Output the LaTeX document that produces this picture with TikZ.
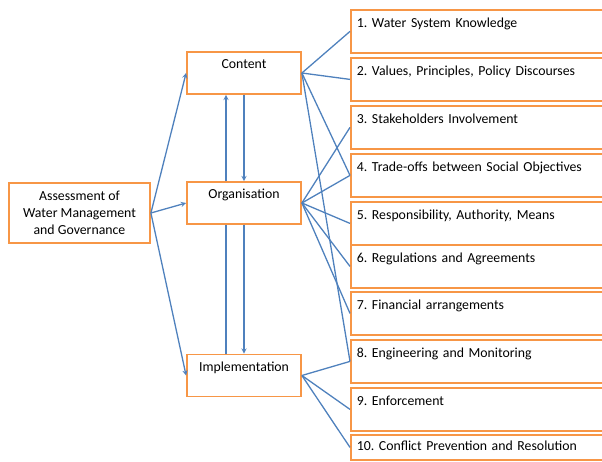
\documentclass[tikz,border=0pt]{standalone}
\usepackage{fontspec}
\setmainfont{Carlito}
\frenchspacing
\usetikzlibrary{arrows}
\definecolor{boxorange}{HTML}{F79646}
\definecolor{linkblue}{HTML}{4F81BD}

\begin{document}
\begin{tikzpicture}[x=1pt,y=-1pt,
    box/.style={draw=boxorange, line width=1.8pt, fill=white, inner sep=4pt,
      font=\fontsize{13.8}{17}\selectfont},
    mainbox/.style={box, align=center, minimum width=141pt, minimum height=60pt},
    partbox/.style={box, minimum width=114pt, text height=13pt, text depth=21pt},
    itembox/.style={box, anchor=north west, text width=252pt, align=left,
      inner xsep=6pt, text height=14pt, text depth=21pt},
    link/.style={draw=linkblue, line width=1.3pt},
    arr/.style={link, -stealth}]
  \clip (0,0) rectangle (602,462);

  % assessment and its three parts
  \node[mainbox] (assess) at (79.5,213) {Assessment of\\Water Management\\and Governance};
  \node[partbox] (content) at (244,73) {Content};
  \node[partbox] (org) at (244,203) {Organisation};
  \node[partbox] (impl) at (244,375.5) {Implementation};

  % the ten elements on the right
  \foreach \n/\y/\t in {1/9/{1. Water System Knowledge},
      2/57/{2. Values, Principles, Policy Discourses},
      3/105/{3. Stakeholders Involvement},
      4/153/{4. Trade-offs between Social Objectives},
      5/201/{5. Responsibility, Authority, Means},
      6/244/{6. Regulations and Agreements},
      7/291/{7. Financial arrangements},
      8/339/{8. Engineering and Monitoring},
      9/387/{9. Enforcement}}
    \node[itembox] (item\n) at (350,\y) {\t};
  \node[itembox, text height=12pt, text depth=5pt] (item10) at (350,434)
    {10. Conflict Prevention and Resolution};

  % assessment to parts
  \foreach \p in {content,org,impl}
    \draw[arr] (assess.east) -- (\p.west);
  \draw[arr] ([xshift=-18pt]org.north) -- ([xshift=-18pt]content.south);
  \draw[arr] (content.south) -- (org.north);
  \draw[link] ([xshift=-18pt]impl.north) -- ([xshift=-18pt]org.south);
  \draw[arr] (org.south) -- (impl.north);

  % parts to elements
  \foreach \i in {1,2,4,8}
    \draw[link] (content.east) -- (item\i.west);
  \foreach \i in {3,...,7}
    \draw[link] (org.east) -- (item\i.west);
  \foreach \i in {8,9,10}
    \draw[link] (impl.east) -- (item\i.west);
\end{tikzpicture}
\end{document}
